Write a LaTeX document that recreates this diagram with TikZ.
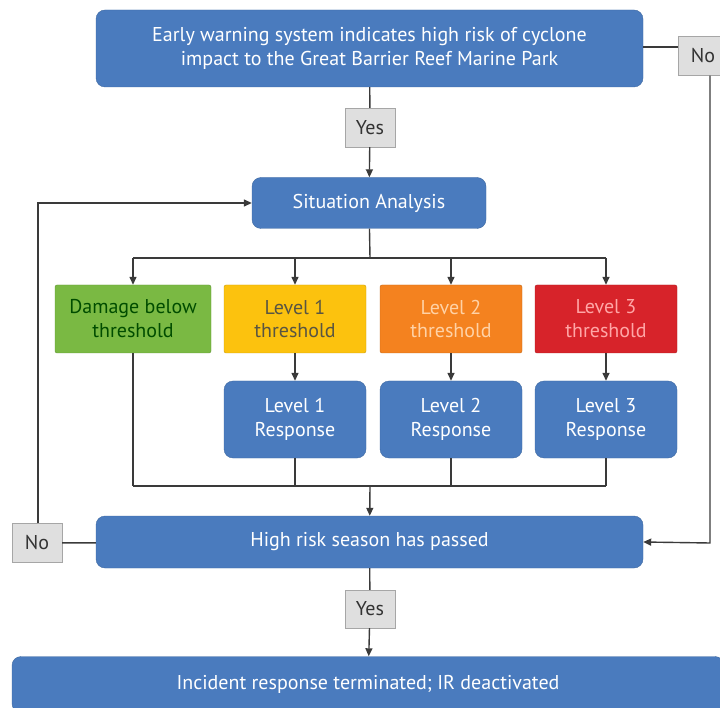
\documentclass[tikz,border=0pt]{standalone}
\usepackage{fontspec}
\setmainfont{PT Sans}
\usetikzlibrary{arrows.meta}

\definecolor{boxblue}{HTML}{4A7BBE}
\definecolor{boxgreen}{HTML}{7AB943}
\definecolor{boxyellow}{HTML}{FCC20E}
\definecolor{boxorange}{HTML}{F4821F}
\definecolor{boxred}{HTML}{D7232A}
\definecolor{linegray}{HTML}{3A3A3A}

\tikzset{
	bluebox/.style = {draw = boxblue!85!black, fill = boxblue, rounded corners = 9pt, text = white, align = center, inner sep = 0pt},
	levelbox/.style = {rounded corners = 2pt, align = center, inner sep = 0pt, minimum width = 142pt, minimum height = 68pt},
	answer/.style = {draw = gray!70, fill = gray!25, text = black!80, inner sep = 0pt, minimum width = 50pt, minimum height = 39pt},
	flow/.style = {linegray, line width = 1.4pt},
	arr/.style = {flow, -{Triangle[length = 8pt, width = 7pt]}}
}

\begin{document}
\begin{tikzpicture}[x = 1pt, y = -1pt, font = \fontsize{20}{24}\selectfont]
	\useasboundingbox (0, 0) rectangle (720, 708);
	
	%	main column
	\node[bluebox, minimum width = 547pt, minimum height = 77pt] (warn) at (369.5, 48.5) {Early warning system indicates high risk of cyclone\\impact to the Great Barrier Reef Marine Park};
	\node[answer] (yes1) at (370, 127.5) {Yes};
	\node[bluebox, minimum width = 234pt, minimum height = 51pt] (sit) at (369, 203) {Situation Analysis};
	
	%	thresholds
	\node[levelbox, minimum width = 156pt, fill = boxgreen, draw = boxgreen!80!black, text = green!30!black] (dmg) at (133, 319) {Damage below\\threshold};
	\node[levelbox, fill = boxyellow, draw = boxyellow!80!black, text = black!75!yellow] (lvA) at (295, 319) {Level 1\\threshold};
	\node[levelbox, fill = boxorange, draw = boxorange!80!black, text = orange!35!white] (lvB) at (451, 319) {Level 2\\threshold};
	\node[levelbox, fill = boxred, draw = boxred!80!black, text = red!35!white] (lvC) at (606, 319) {Level 3\\threshold};
	
	%	responses
	\node[bluebox, minimum width = 142pt, minimum height = 77pt] (rsA) at (295, 419.5) {Level 1\\Response};
	\node[bluebox, minimum width = 142pt, minimum height = 77pt] (rsB) at (451, 419.5) {Level 2\\Response};
	\node[bluebox, minimum width = 142pt, minimum height = 77pt] (rsC) at (606, 419.5) {Level 3\\Response};
	
	%	season check
	\node[bluebox, minimum width = 547pt, minimum height = 52pt] (risk) at (369.5, 542) {High risk season has passed};
	\node[answer, minimum height = 38pt] (yes2) at (370, 609) {Yes};
	\node[bluebox, minimum width = 712pt, minimum height = 56pt] (done) at (368, 684.5) {Incident response terminated; IR deactivated};
	
	%	no branches
	\node[answer] (noR) at (703, 56) {No};
	\node[answer] (noL) at (37, 543) {No};
	
	%	split and merge points
	\coordinate (split) at (370, 258);
	\coordinate (merge) at (370, 486);
	\coordinate (rturn) at (710, 543);
	\coordinate (lturn) at (38, 203);
	
	%	connectors
	\draw[flow] (warn) -- (yes1);
	\draw[arr] (yes1) -- (sit);
	\draw[flow] (sit) -- (split);
	\draw[flow] (split -| dmg) -- (split -| lvC);
	\foreach \b in {dmg, lvA, lvB, lvC}
		\draw[arr] (split -| \b) -- (\b);
	\foreach \a/\b in {lvA/rsA, lvB/rsB, lvC/rsC}
		\draw[arr] (\a) -- (\b);
	\foreach \b in {dmg, rsA, rsB, rsC}
		\draw[flow] (\b) -- (merge -| \b);
	\draw[flow] (merge -| dmg) -- (merge -| rsC);
	\draw[arr] (merge) -- (risk);
	\draw[flow] (risk) -- (yes2);
	\draw[arr] (yes2) -- (done);
	
	%	loops
	\draw[flow] (warn.east |- 0, 47) -- (noR.west |- 0, 47);
	\draw[arr] (noR.south -| rturn) -- (rturn) -- (risk.east);
	\draw[flow] (risk) -- (noL);
	\draw[arr] (noL.north -| lturn) -- (lturn) -- (sit);
\end{tikzpicture}
\end{document}
